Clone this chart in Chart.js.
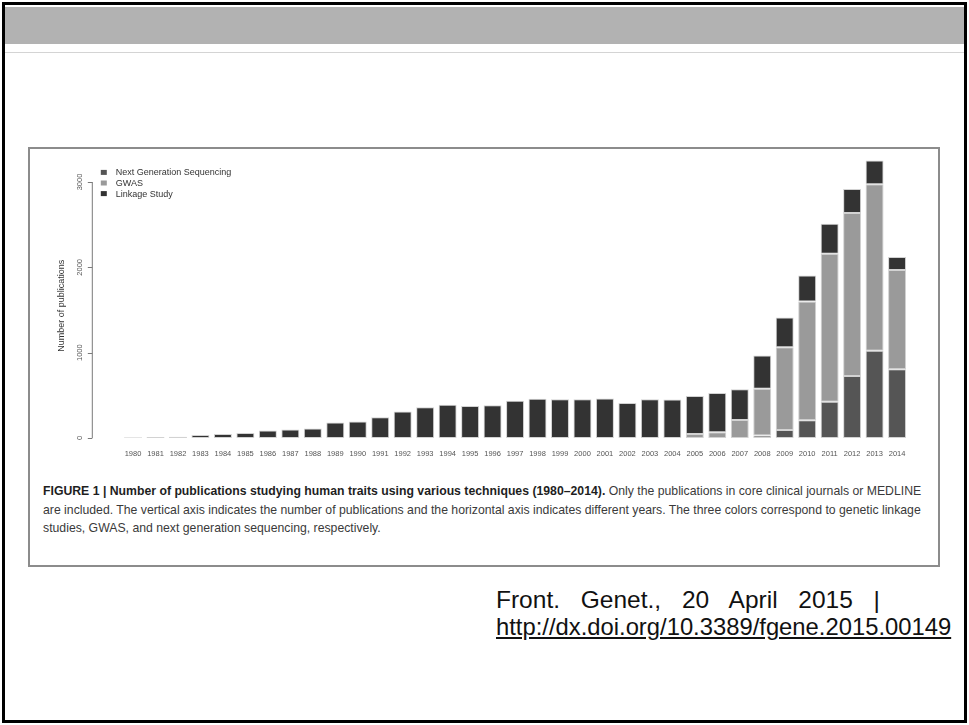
<!DOCTYPE html>
<html>
<head>
<meta charset="utf-8">
<script src="https://cdn.jsdelivr.net/npm/chart.js@4/dist/chart.umd.min.js"></script>
<style>
  html, body { margin: 0; padding: 0; background: #fff; }
  #slide { position: relative; width: 969px; height: 725px; overflow: hidden; font-family: "Liberation Sans", Arial, sans-serif; }
  #frame { position: absolute; left: 2px; top: 2px; width: 959px; height: 715px; border: 3px solid #000; }
  #header { position: absolute; left: 5px; top: 7px; width: 959px; height: 37px; background: #b2b2b2; }
  #rule { position: absolute; left: 5px; top: 52px; width: 959px; height: 1px; background: #d4d4d4; }
  #figbox { position: absolute; left: 28px; top: 147px; width: 912px; height: 420px; box-sizing: border-box; border: 2px solid #8c8c8c; }
  #caption { position: absolute; left: 43px; top: 482px; font-family: "Liberation Sans Narrow", "Arial Narrow", "Liberation Sans", sans-serif; font-size: 12.25px; color: #3a3a3a; line-height: 18.5px; }
  #caption div { white-space: nowrap; }
  #caption b { color: #1e1e1e; }
  #cite { position: absolute; left: 496px; top: 586px; width: 384px; color: #111; }
  #cite .src { font-size: 24.5px; line-height: 27px; text-align: justify; text-align-last: justify; white-space: nowrap; }
  #cite .url { font-size: 23.8px; line-height: 27px; text-decoration: underline; white-space: nowrap; }
  #chart { position: absolute; left: 0; top: 0; }
</style>
</head>
<body>
<div id="slide">
  <div id="frame"></div>
  <div id="header"></div>
  <div id="rule"></div>
  <div id="figbox"></div>
  <div id="caption">
    <div><b>FIGURE 1 | Number of publications studying human traits using various techniques (1980–2014).</b> Only the publications in core clinical journals or MEDLINE</div>
    <div>are included. The vertical axis indicates the number of publications and the horizontal axis indicates different years. The three colors correspond to genetic linkage</div>
    <div>studies, GWAS, and next generation sequencing, respectively.</div>
  </div>
  <div id="cite">
    <div class="src">Front. Genet., 20 April 2015 |</div>
    <div class="url">http://dx.doi.org/10.3389/fgene.2015.00149</div>
  </div>
  <canvas id="chart" width="969" height="725"></canvas>
</div>
<script>
// Publication counts per year, split by technique
const years = ['1980','1981','1982','1983','1984','1985','1986','1987','1988','1989',
  '1990','1991','1992','1993','1994','1995','1996','1997','1998','1999',
  '2000','2001','2002','2003','2004','2005','2006','2007','2008','2009',
  '2010','2011','2012','2013','2014'];

const ngsCounts = [0,0,0,0,0,0,0,0,0,0,
  0,0,0,0,0,0,0,0,0,0,
  0,0,0,0,0,0,0,0,30,94,
  207,426,728,1021,806];

const gwasCounts = [0,0,0,0,0,0,0,0,0,0,
  0,0,0,0,0,0,0,0,0,0,
  0,0,0,0,0,47,66,211,548,970,
  1393,1734,1909,1952,1162];

const linkageCounts = [10,12,14,35,47,59,88,100,112,182,
  194,243,310,360,391,374,384,436,460,454,
  454,462,411,454,450,446,462,360,388,348,
  305,352,282,278,153];

const yTicks = [0, 1000, 2000, 3000];
const yTitle = 'Number of publications';

// R-style left axis, rotated tick labels, axis title and inset legend
const rAxisPlugin = {
  id: 'rAxis',
  afterDraw(chart) {
    const { ctx, chartArea, scales } = chart;
    const y = scales.y;
    const axisX = chartArea.left - 30;
    ctx.save();
    ctx.strokeStyle = '#7a7a7a';
    ctx.lineWidth = 1;
    ctx.beginPath();
    ctx.moveTo(axisX + 0.5, y.getPixelForValue(yTicks[0]));
    ctx.lineTo(axisX + 0.5, y.getPixelForValue(yTicks[yTicks.length - 1]));
    yTicks.forEach(v => {
      const py = Math.round(y.getPixelForValue(v)) + 0.5;
      ctx.moveTo(axisX - 4, py);
      ctx.lineTo(axisX + 0.5, py);
    });
    ctx.stroke();

    ctx.fillStyle = '#555';
    ctx.font = '7.5px "Liberation Sans", Arial, sans-serif';
    ctx.textAlign = 'center';
    ctx.textBaseline = 'middle';
    yTicks.forEach(v => {
      ctx.save();
      ctx.translate(axisX - 12, y.getPixelForValue(v));
      ctx.rotate(-Math.PI / 2);
      ctx.fillText(String(v), 0, 0);
      ctx.restore();
    });

    ctx.save();
    ctx.font = '9px "Liberation Sans", Arial, sans-serif';
    ctx.fillStyle = '#333';
    ctx.translate(axisX - 30, y.getPixelForValue(1550));
    ctx.rotate(-Math.PI / 2);
    ctx.fillText(yTitle, 0, 0);
    ctx.restore();

    // legend, listed bottom series first
    ctx.font = '9px "Liberation Sans", Arial, sans-serif';
    ctx.textAlign = 'left';
    chart.data.datasets.forEach((ds, i) => {
      const cy = chartArea.top + 16 + i * 10.6;
      ctx.fillStyle = ds.backgroundColor;
      ctx.fillRect(chartArea.left - 21, cy - 2.5, 6, 5);
      ctx.fillStyle = '#333';
      ctx.fillText(ds.label, chartArea.left - 6, cy + 0.5);
    });
    ctx.restore();
  }
};

const barStyle = { borderColor: '#d2d2d2', borderWidth: 1, borderSkipped: false, barPercentage: 0.8, categoryPercentage: 1.0 };

new Chart(document.getElementById('chart'), {
  type: 'bar',
  data: {
    labels: years,
    datasets: [
      Object.assign({ label: 'Next Generation Sequencing', data: ngsCounts, backgroundColor: '#555555' }, barStyle),
      Object.assign({ label: 'GWAS', data: gwasCounts, backgroundColor: '#9a9a9a' }, barStyle),
      Object.assign({ label: 'Linkage Study', data: linkageCounts, backgroundColor: '#333333' }, barStyle)
    ]
  },
  options: {
    responsive: false,
    animation: false,
    events: [],
    layout: { padding: { left: 121.8, right: 60.7, top: 156.4, bottom: 256 } },
    plugins: { legend: { display: false }, tooltip: { enabled: false } },
    scales: {
      x: {
        stacked: true,
        grid: { display: false, drawTicks: false },
        border: { display: false },
        ticks: {
          autoSkip: false, maxRotation: 0, minRotation: 0, padding: 11,
          color: '#555', font: { size: 7.5, family: '"Liberation Sans", Arial, sans-serif' }
        }
      },
      y: {
        stacked: true,
        display: false,
        min: 0,
        max: 3300
      }
    }
  },
  plugins: [rAxisPlugin]
});
</script>
</body>
</html>
